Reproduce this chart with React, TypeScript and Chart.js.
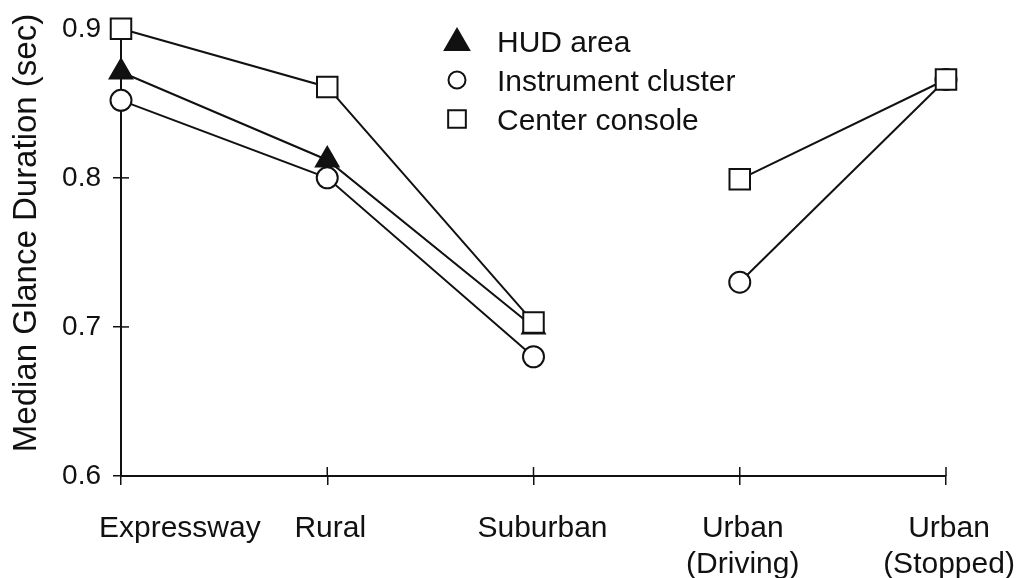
import React, { useEffect, useRef } from 'react';
import { Chart, registerables } from 'chart.js';

Chart.register(...registerables);

// ---------- data ----------
const categories = ['Expressway', 'Rural', 'Suburban', 'Urban (Driving)', 'Urban (Stopped)'];
const categoryLines = [['Expressway'], ['Rural'], ['Suburban'], ['Urban', '(Driving)'], ['Urban', '(Stopped)']];
const hudArea = [0.871, 0.812, 0.7, null, null];
const instrumentCluster = [0.852, 0.8, 0.68, 0.73, 0.866];
const centerConsole = [0.9, 0.861, 0.703, 0.799, 0.866];
const seriesNames = ['HUD area', 'Instrument cluster', 'Center console'];
const yMin = 0.6;
const yMax = 0.9;
const yStep = 0.1;
const yTitle = 'Median Glance Duration (sec)';
// no connecting line between these two categories
const breakAfterIndex = 2;

// ---------- style ----------
const INK = '#111111';
const FONT = '"Liberation Sans", Arial, Helvetica, sans-serif';

const gapSegment = {
  borderColor: (ctx: any) => (ctx.p0DataIndex === breakAfterIndex ? 'rgba(0,0,0,0)' : INK),
};

function line(ctx: CanvasRenderingContext2D, x1: number, y1: number, x2: number, y2: number) {
  ctx.beginPath();
  ctx.moveTo(x1, y1);
  ctx.lineTo(x2, y2);
  ctx.stroke();
}

function drawMarker(ctx: CanvasRenderingContext2D, style: string, x: number, y: number, r: number, fill: string) {
  ctx.beginPath();
  if (style === 'triangle') {
    for (let k = 0; k < 3; k++) {
      const a = (k * 2 * Math.PI) / 3;
      const px = x + Math.sin(a) * r;
      const py = y - Math.cos(a) * r;
      if (k === 0) ctx.moveTo(px, py);
      else ctx.lineTo(px, py);
    }
    ctx.closePath();
  } else if (style === 'circle') {
    ctx.arc(x, y, r, 0, Math.PI * 2);
  } else {
    const s = r / Math.SQRT2;
    ctx.rect(x - s, y - s, 2 * s, 2 * s);
  }
  ctx.fillStyle = fill;
  ctx.fill();
  ctx.lineWidth = 2;
  ctx.strokeStyle = INK;
  ctx.stroke();
}

const decorPlugin = {
  id: 'decor',
  beforeDatasetsDraw(chart: any) {
    const { ctx, chartArea, scales } = chart;
    const xs = scales.x;
    const ys = scales.y;
    ctx.save();
    ctx.strokeStyle = INK;
    ctx.lineWidth = 1.5;
    ys.ticks.forEach((t: any) => {
      const py = ys.getPixelForValue(t.value);
      line(ctx, chartArea.left, py, chartArea.left + 8, py);
    });
    categories.forEach((_c, i) => {
      const px = xs.getPixelForValue(i);
      line(ctx, px, chartArea.bottom, px, chartArea.bottom - 9);
    });
    ctx.restore();
  },
  afterDraw(chart: any) {
    const { ctx, chartArea, scales } = chart;
    const xs = scales.x;
    ctx.save();
    ctx.fillStyle = INK;

    // category labels
    ctx.font = `30px ${FONT}`;
    ctx.textBaseline = 'alphabetic';
    categoryLines.forEach((lines, i) => {
      const px = xs.getPixelForValue(i);
      lines.forEach((txt, j) => {
        const by = chartArea.bottom + 61 + j * 36;
        if (i === 0) {
          ctx.textAlign = 'left';
          ctx.fillText(txt, px - 22, by);
        } else {
          ctx.textAlign = 'center';
          ctx.fillText(txt, px + (i === 2 ? 9 : 3), by);
        }
      });
    });

    // y-axis title
    ctx.save();
    ctx.translate(36, 233);
    ctx.rotate(-Math.PI / 2);
    ctx.font = `33px ${FONT}`;
    ctx.textAlign = 'center';
    ctx.textBaseline = 'alphabetic';
    ctx.fillText(yTitle, 0, 0);
    ctx.restore();

    // legend
    const mx = 457;
    const tx = 497;
    chart.data.datasets.forEach((ds: any, i: number) => {
      const cy = 41 + i * 39;
      const r = ds.pointStyle === 'triangle' ? 14 : ds.pointStyle === 'circle' ? 8.5 : 12.5;
      drawMarker(ctx, ds.pointStyle, mx, cy + (ds.pointStyle === 'triangle' ? 2 : 0), r, ds.pointBackgroundColor);
      ctx.fillStyle = INK;
      ctx.font = `30px ${FONT}`;
      ctx.textAlign = 'left';
      ctx.textBaseline = 'alphabetic';
      ctx.fillText(ds.label, tx, cy + 11);
    });
    ctx.restore();
  },
};

export default function App() {
  const ref = useRef<HTMLCanvasElement | null>(null);

  useEffect(() => {
    if (!ref.current) return;
    const common = {
      borderColor: INK,
      borderWidth: 2,
      pointBorderColor: INK,
      pointBorderWidth: 2,
      clip: false,
      spanGaps: false,
      segment: gapSegment,
    };
    const chart = new Chart(ref.current, {
      type: 'line',
      data: {
        labels: categories,
        datasets: [
          {
            ...common,
            label: seriesNames[0],
            data: hudArea,
            pointStyle: 'triangle',
            pointRadius: 13,
            pointBackgroundColor: INK,
            order: 2,
          },
          {
            ...common,
            label: seriesNames[1],
            data: instrumentCluster,
            pointStyle: 'circle',
            pointRadius: 10.5,
            pointBackgroundColor: '#ffffff',
            order: 1,
          },
          {
            ...common,
            label: seriesNames[2],
            data: centerConsole,
            pointStyle: 'rect',
            pointRadius: 14.5,
            pointBackgroundColor: '#ffffff',
            order: 0,
          },
        ] as any,
      },
      options: {
        responsive: false,
        animation: false,
        devicePixelRatio: 1,
        layout: { padding: { left: 0, right: 77, top: 26, bottom: 0 } },
        plugins: {
          legend: { display: false },
          tooltip: { enabled: false },
          title: { display: false },
        },
        scales: {
          x: {
            type: 'category',
            offset: false,
            afterFit: (s: any) => {
              s.height = 102;
            },
            grid: {
              drawOnChartArea: false,
              drawTicks: true,
              tickLength: 9,
              color: INK,
              lineWidth: 1.5,
            },
            border: { display: true, color: INK, width: 2 },
            ticks: { display: false },
          },
          y: {
            type: 'linear',
            min: yMin,
            max: yMax,
            afterFit: (s: any) => {
              s.width = 121;
            },
            grid: {
              drawOnChartArea: false,
              drawTicks: true,
              tickLength: 8,
              color: INK,
              lineWidth: 1.5,
            },
            border: { display: true, color: INK, width: 2 },
            ticks: {
              stepSize: yStep,
              padding: 12,
              color: INK,
              font: { family: FONT, size: 28 },
              callback: (v: any) => Number(v).toFixed(1),
            },
          },
        },
      } as any,
      plugins: [decorPlugin],
    });
    return () => chart.destroy();
  }, []);

  return (
    <div style={{ position: 'absolute', left: 0, top: 0, width: 1023, height: 578, background: '#fff' }}>
      <canvas ref={ref} width={1023} height={578} style={{ display: 'block' }} />
    </div>
  );
}
